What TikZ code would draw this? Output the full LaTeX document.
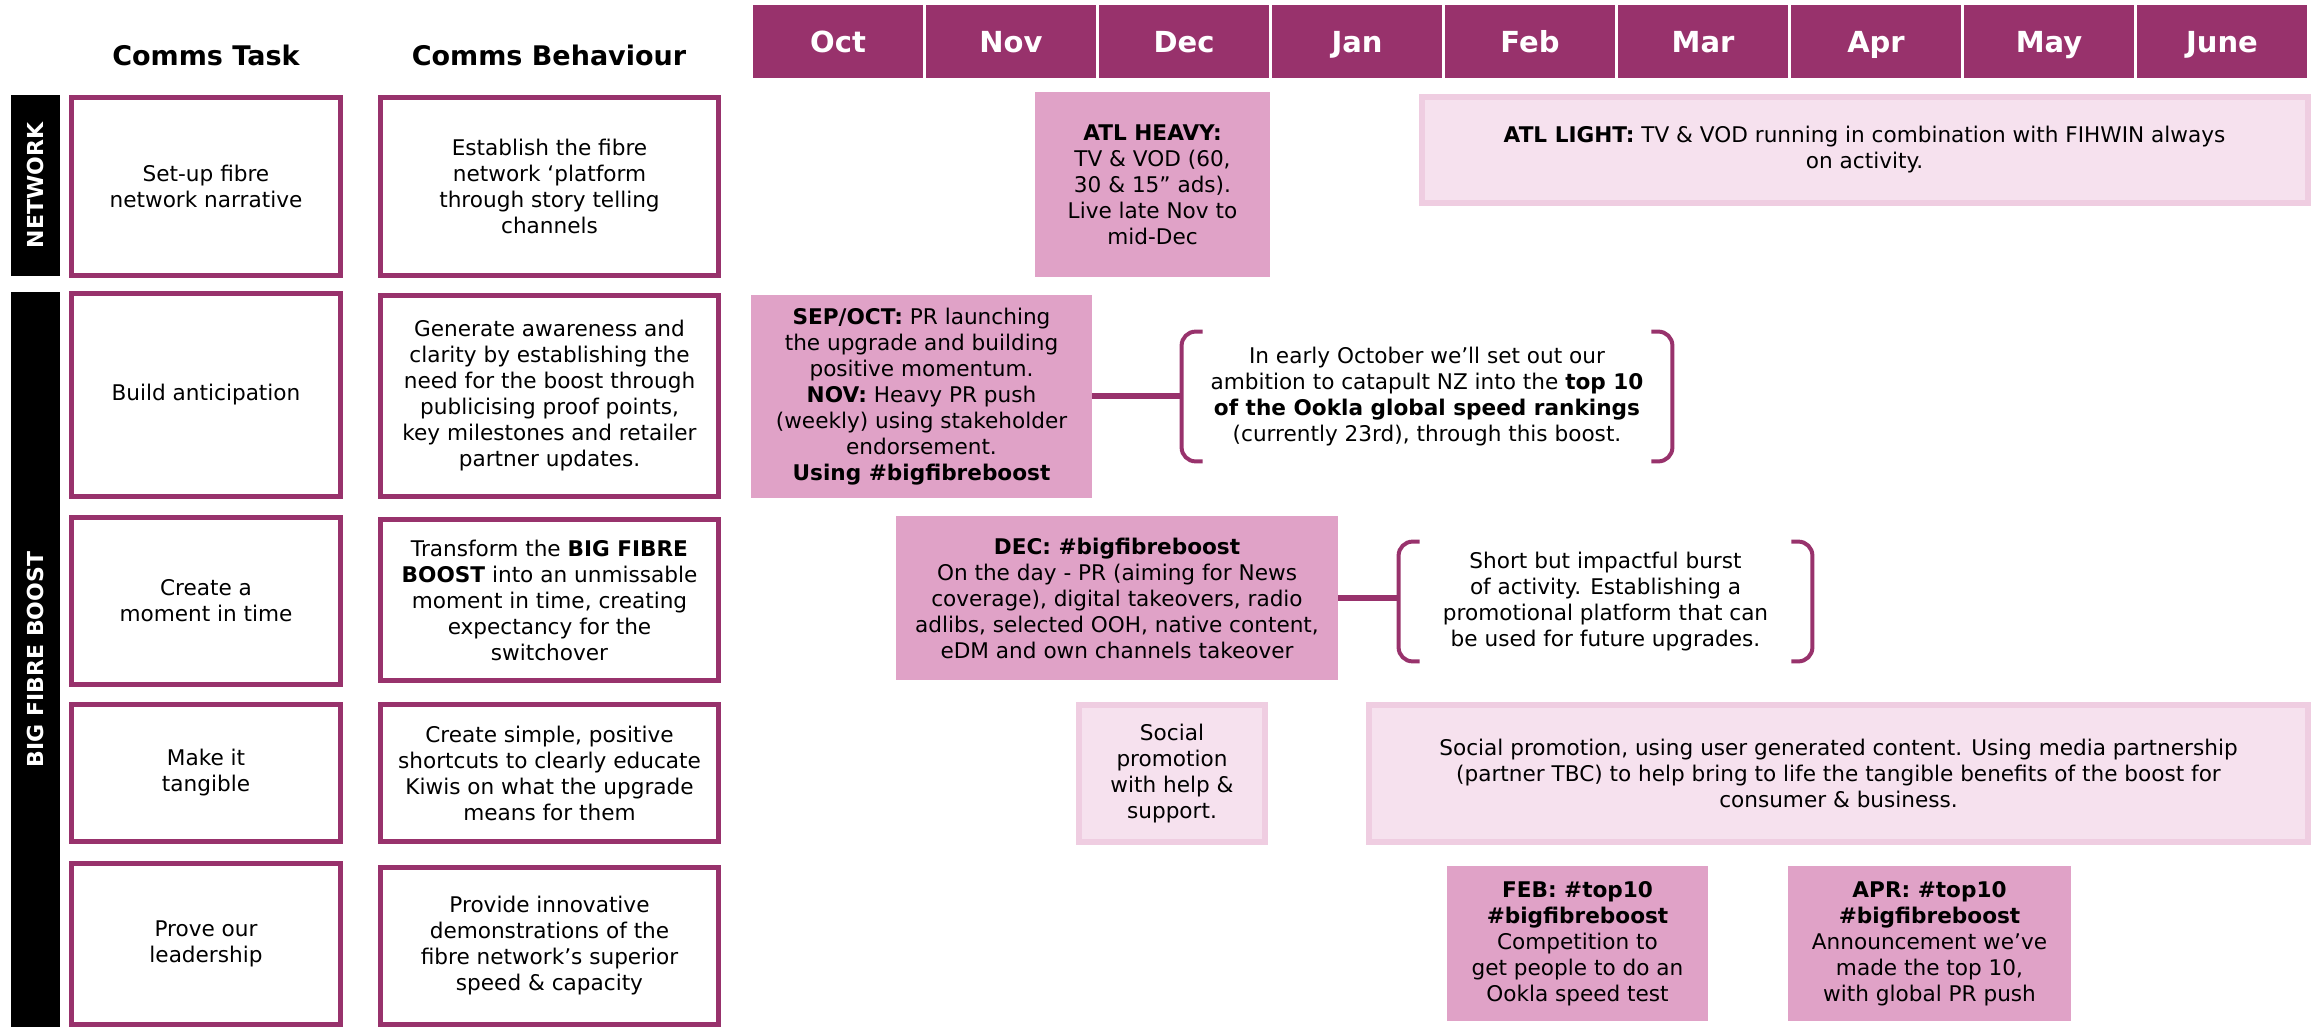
\documentclass[tikz,border=0pt]{standalone}
\usepackage{fontspec}
\setmainfont{DejaVu Sans}
\usepackage{xcolor}
\usepackage{tikz}

\definecolor{plum}{HTML}{98326C}
\definecolor{rosefill}{HTML}{E0A2C7}
\definecolor{blushfill}{HTML}{F6E1EE}
\definecolor{blushedge}{HTML}{EFCDE1}

\begin{document}
\begin{tikzpicture}[x=0.5pt, y=-0.5pt,
  every node/.style={font=\fontsize{10.8}{13}\selectfont, align=center, inner sep=0pt},
  head/.style={font=\fontsize{13.5}{16}\selectfont\bfseries},
  month/.style={fill=plum, text=white, minimum width=85pt, minimum height=36.5pt,
    text height=12pt, text depth=1pt, font=\fontsize{14.5}{17}\selectfont\bfseries},
  tag/.style={fill=black, text=white, rotate=90, minimum height=24.5pt,
    font=\fontsize{11}{13}\selectfont\bfseries},
  cell/.style={draw=plum, line width=2.5pt},
  task/.style={cell, minimum width=134.5pt},
  behave/.style={cell, minimum width=169pt},
  heavy/.style={fill=rosefill},
  light/.style={fill=blushfill, draw=blushedge, line width=3pt},
  link/.style={draw=plum, line width=3pt},
  brace/.style={draw=plum, line width=2pt, rounded corners=7pt}]
  \useasboundingbox (0,0) rectangle (2315,1027);

  % column headings and months
  \node[head] (taskhd) at (206,55) {Comms Task};
  \node[head] (behhd) at (549,55) {Comms Behaviour};
  \foreach \m [count=\i from 0] in {Oct,Nov,Dec,Jan,Feb,Mar,Apr,May,June}
    \node[month] (\m) at (838+173*\i,41.5) {\m};

  % side tags
  \node[tag, minimum width=90.5pt] (network) at (35.5,185.5) {NETWORK};
  \node[tag, minimum width=367.5pt] (boost) at (35.5,659.5) {BIG FIBRE BOOST};

  % tasks
  \node[task, minimum height=89pt] (t1) at (206,186.5) {Set-up fibre\\network narrative};
  \node[task, minimum height=101.5pt] (t2) at (206,395) {Build anticipation};
  \node[task, minimum height=83.5pt] (t3) at (206,601) {Create a\\moment in time};
  \node[task, minimum height=68.5pt] (t4) at (206,773) {Make it\\tangible};
  \node[task, minimum height=80.5pt] (t5) at (206,944) {Prove our\\leadership};

  % behaviours
  \node[behave, minimum height=89pt] (b1) at (549.5,186.5)
    {Establish the fibre\\network ‘platform\\through story telling\\channels};
  \node[behave, minimum height=100.5pt] (b2) at (549.5,396)
    {Generate awareness and\\clarity by establishing the\\need for the boost through\\publicising proof points,\\key milestones and retailer\\partner updates.};
  \node[behave, minimum height=80.5pt] (b3) at (549.5,600)
    {Transform the \textbf{BIG FIBRE}\\\textbf{BOOST} into an unmissable\\moment in time, creating\\expectancy for the\\switchover};
  \node[behave, minimum height=68.5pt] (b4) at (549.5,773)
    {Create simple, positive\\shortcuts to clearly educate\\Kiwis on what the upgrade\\means for them};
  \node[behave, minimum height=78.5pt] (b5) at (549.5,946)
    {Provide innovative\\demonstrations of the\\fibre network’s superior\\speed \& capacity};

  % timeline activity
  \node[heavy, minimum width=117.5pt, minimum height=92.5pt] (atlh) at (1152.5,184.5)
    {\textbf{ATL HEAVY:}\\TV \& VOD (60,\\30 \& 15” ads).\\Live late Nov to\\mid-Dec};
  \node[light, minimum width=443pt, minimum height=53pt] (atll) at (1864.5,150)
    {\textbf{ATL LIGHT:} TV \& VOD running in combination with FIHWIN always\\on activity.};
  \node[heavy, minimum width=170.5pt, minimum height=101.5pt] (sep) at (921.5,396.5)
    {\textbf{SEP/OCT:} PR launching\\the upgrade and building\\positive momentum.\\\textbf{NOV:} Heavy PR push\\(weekly) using stakeholder\\endorsement.\\\textbf{Using \#bigfibreboost}};
  \node[minimum width=245pt, minimum height=64.5pt] (amb1) at (1427,396.5)
    {In early October we’ll set out our\\ambition to catapult NZ into the \textbf{top 10}\\\textbf{of the Ookla global speed rankings}\\(currently 23rd), through this boost.};
  \node[heavy, minimum width=221pt, minimum height=82pt] (dec) at (1117,598)
    {\textbf{DEC: \#bigfibreboost}\\On the day - PR (aiming for News\\coverage), digital takeovers, radio\\adlibs, selected OOH, native content,\\eDM and own channels takeover};
  \node[minimum width=206.5pt, minimum height=59.5pt] (amb2) at (1605.5,601.5)
    {Short but impactful burst\\of activity. Establishing a\\promotional platform that can\\be used for future upgrades.};
  \node[light, minimum width=93pt, minimum height=68.5pt] (soc1) at (1172,773.5)
    {Social\\promotion\\with help \&\\support.};
  \node[light, minimum width=469.5pt, minimum height=68.5pt] (soc2) at (1838.5,773.5)
    {Social promotion, using user generated content. Using media partnership\\(partner TBC) to help bring to life the tangible benefits of the boost for\\consumer \& business.};
  \node[heavy, minimum width=130.5pt, minimum height=77.5pt] (feb) at (1577.5,943.5)
    {\textbf{FEB: \#top10}\\\textbf{\#bigfibreboost}\\Competition to\\get people to do an\\Ookla speed test};
  \node[heavy, minimum width=141.5pt, minimum height=77.5pt] (apr) at (1929.5,943.5)
    {\textbf{APR: \#top10}\\\textbf{\#bigfibreboost}\\Announcement we’ve\\made the top 10,\\with global PR push};

  % links and brackets
  \draw[link] (sep.east) -- (amb1.west);
  \draw[link] (dec.east) -- (dec.east -| amb2.west);
  \foreach \n in {amb1,amb2} {
    \draw[brace] ([xshift=10.5pt]\n.north west) -- (\n.north west) -- (\n.south west) -- ([xshift=10.5pt]\n.south west);
    \draw[brace] ([xshift=-10.5pt]\n.north east) -- (\n.north east) -- (\n.south east) -- ([xshift=-10.5pt]\n.south east);
  }
\end{tikzpicture}
\end{document}
